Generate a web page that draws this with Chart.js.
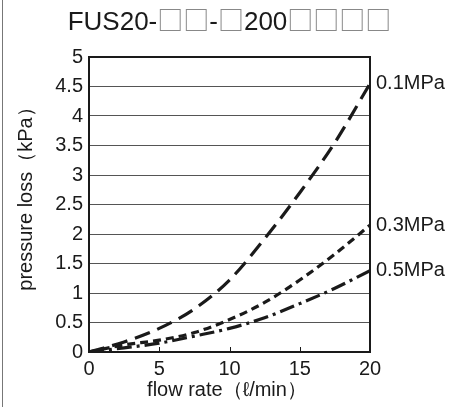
<!DOCTYPE html>
<html>
<head>
<meta charset="utf-8">
<script src="https://cdn.jsdelivr.net/npm/chart.js@4.4.1/dist/chart.umd.min.js"></script>
<style>
  html, body { margin: 0; padding: 0; background: #fff; }
  #wrap { width: 466px; height: 407px; }
</style>
</head>
<body>
<div id="wrap"><canvas id="lossChart" width="466" height="407"></canvas></div>
<script>
// values
const flowRate = [0, 2.5, 5, 7.5, 10, 12.5, 15, 17.5, 20];
const loss01 = [0, 0.17, 0.4, 0.73, 1.22, 1.92, 2.7, 3.55, 4.55];
const loss03 = [0, 0.12, 0.2, 0.33, 0.55, 0.84, 1.22, 1.66, 2.15];
const loss05 = [0, 0.07, 0.15, 0.27, 0.4, 0.58, 0.82, 1.08, 1.38];
const seriesNames = ["0.1MPa", "0.3MPa", "0.5MPa"];
const titleParts = ["FUS20-", "□", "□", "-", "□", "200", "□", "□", "□", "□"];
const xTitle = "flow rate（ℓ/min）";
const yTitle = "pressure loss（kPa）";

const FONT = "'Liberation Sans', Arial, sans-serif";
const INK = "#1a1a1a";

function toPoints(ys) {
  return flowRate.map((x, i) => ({ x: x, y: ys[i] }));
}

function lineSet(label, ys, dash) {
  return {
    label: label,
    data: toPoints(ys),
    borderColor: INK,
    borderWidth: 3.2,
    borderDash: dash,
    pointRadius: 0,
    fill: false,
    cubicInterpolationMode: "monotone"
  };
}

// frame, inner ticks, titles and end labels
const decor = {
  id: "decor",
  afterDatasetsDraw(chart) {
    const ctx = chart.ctx;
    const a = chart.chartArea;
    const xs = chart.scales.x;
    const ys = chart.scales.y;
    ctx.save();

    // outer left rule
    ctx.strokeStyle = "#777";
    ctx.lineWidth = 1;
    ctx.beginPath();
    ctx.moveTo(2.5, 0);
    ctx.lineTo(2.5, chart.height);
    ctx.stroke();

    // plot frame
    ctx.strokeStyle = INK;
    ctx.lineWidth = 2;
    ctx.strokeRect(a.left, a.top, a.right - a.left, a.bottom - a.top);

    // inward ticks on the bottom axis
    ctx.lineWidth = 1;
    [5, 10, 15].forEach(v => {
      const px = Math.round(xs.getPixelForValue(v)) + 0.5;
      ctx.beginPath();
      ctx.moveTo(px, a.bottom);
      ctx.lineTo(px, a.bottom - 5);
      ctx.stroke();
    });

    // series labels at line ends
    ctx.fillStyle = INK;
    ctx.font = "20px " + FONT;
    ctx.textAlign = "left";
    ctx.textBaseline = "middle";
    chart.data.datasets.forEach(ds => {
      const last = ds.data[ds.data.length - 1];
      ctx.fillText(ds.label, xs.getPixelForValue(last.x) + 6, ys.getPixelForValue(last.y));
    });

    // x title
    ctx.textAlign = "center";
    ctx.textBaseline = "alphabetic";
    ctx.fillText(xTitle, 227, 396);

    // y title
    ctx.save();
    ctx.translate(26, 194);
    ctx.rotate(-Math.PI / 2);
    ctx.textBaseline = "middle";
    ctx.fillText(yTitle, 0, 0);
    ctx.restore();

    // chart title, boxes in grey
    const textFont = "26px " + FONT;
    const boxFont = "26px 'Noto Sans CJK JP'";
    let total = 0;
    titleParts.forEach(p => {
      ctx.font = p === "□" ? boxFont : textFont;
      total += ctx.measureText(p).width;
    });
    let tx = (a.left + a.right) / 2 - total / 2;
    ctx.textAlign = "left";
    ctx.textBaseline = "alphabetic";
    titleParts.forEach(p => {
      const isBox = p === "□";
      ctx.font = isBox ? boxFont : textFont;
      ctx.fillStyle = isBox ? "#888" : INK;
      ctx.fillText(p, tx, 30);
      tx += ctx.measureText(p).width;
    });

    ctx.restore();
  }
};

new Chart(document.getElementById("lossChart"), {
  type: "line",
  data: {
    datasets: [
      lineSet(seriesNames[0], loss01, [16, 8]),
      lineSet(seriesNames[1], loss03, [8, 5]),
      lineSet(seriesNames[2], loss05, [15, 5, 3, 5])
    ]
  },
  options: {
    responsive: false,
    animation: false,
    layout: { padding: { top: 57, right: 96, left: 0, bottom: 0 } },
    plugins: {
      legend: { display: false },
      tooltip: { enabled: false }
    },
    scales: {
      x: {
        type: "linear",
        min: 0,
        max: 20,
        afterFit: s => { s.height = 55; },
        border: { display: false },
        grid: { display: false, drawTicks: false },
        ticks: {
          stepSize: 5,
          padding: 5,
          color: INK,
          font: { family: FONT, size: 20 }
        }
      },
      y: {
        min: 0,
        max: 5,
        afterFit: s => { s.width = 89; },
        border: { display: false },
        grid: { color: "#555", lineWidth: 1, drawTicks: false },
        ticks: {
          stepSize: 0.5,
          padding: 6,
          color: INK,
          font: { family: FONT, size: 20 },
          callback: v => String(Math.round(v * 10) / 10)
        }
      }
    }
  },
  plugins: [decor]
});
</script>
</body>
</html>
